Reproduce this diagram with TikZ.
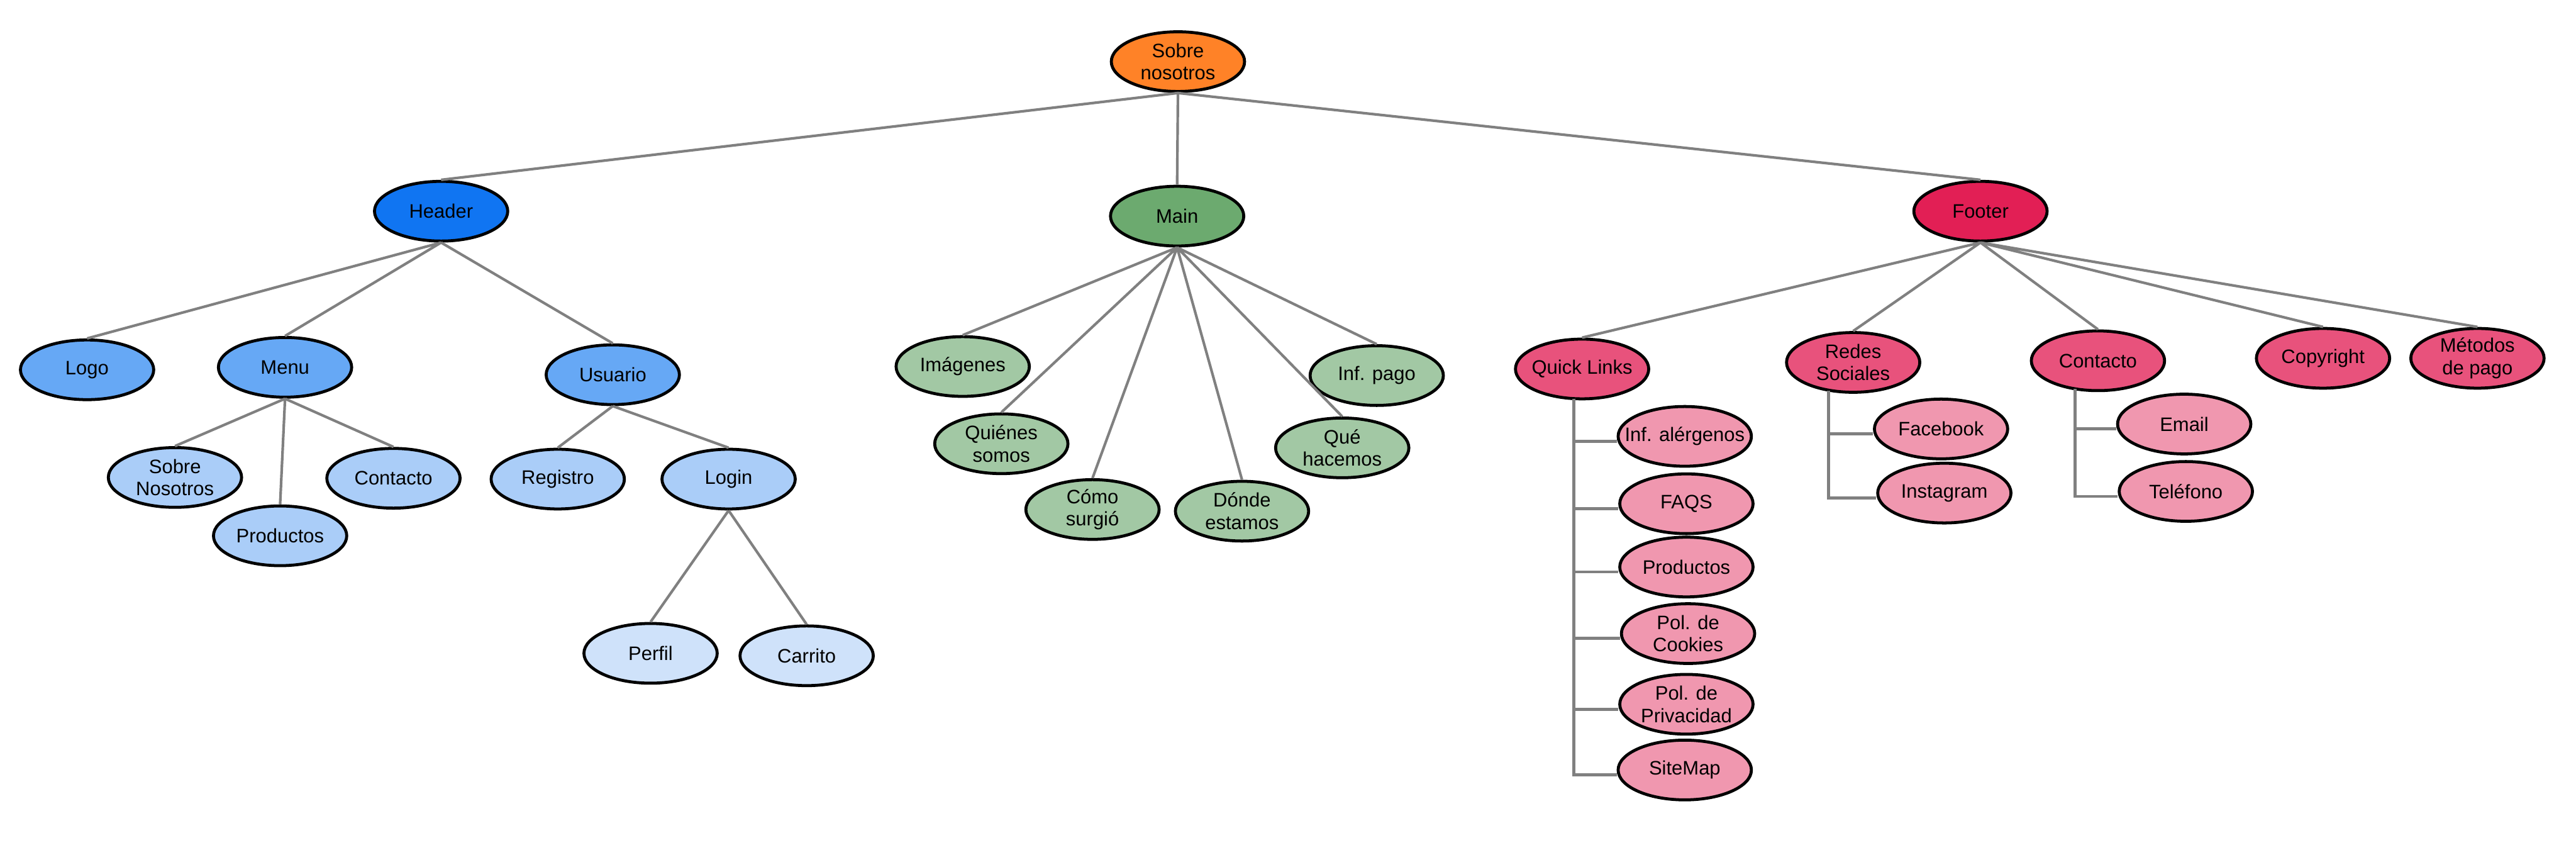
\documentclass[tikz,border=0pt]{standalone}
\usepackage{fontspec}
\setmainfont{Liberation Sans}
\usetikzlibrary{shapes.geometric,calc}
\definecolor{cOrange}{HTML}{FF8227}
\definecolor{cBlueA}{HTML}{1075F2}
\definecolor{cBlueB}{HTML}{66A8F5}
\definecolor{cBlueC}{HTML}{AACDF8}
\definecolor{cBlueD}{HTML}{CFE2FA}
\definecolor{cGreenA}{HTML}{6CAA6F}
\definecolor{cGreenB}{HTML}{A2C8A4}
\definecolor{cRedA}{HTML}{E21F55}
\definecolor{cRedB}{HTML}{E8527C}
\definecolor{cRedC}{HTML}{F097AF}
\definecolor{cLine}{HTML}{808080}
\begin{document}
\begin{tikzpicture}[x=0.030816cm,y=-0.030816cm,
  el/.style={ellipse,draw=black,line width=1.6pt,minimum width=2.5cm,minimum height=1.12cm,
    inner xsep=-3cm,inner ysep=-2cm,align=center,
    font=\fontsize{10.4}{12}\selectfont},
  conn/.style={draw=cLine,line width=1.4pt},
  trunk/.style={draw=cLine,line width=1.6pt}]
\useasboundingbox (0,0) rectangle (1568,517);
% root
\node[el,fill=cOrange] (sn) at (717,37.5) {Sobre\\nosotros};
% level 1
\node[el,fill=cBlueA] (hd) at (268.5,128.5) {Header};
\node[el,fill=cGreenA] (mn) at (716.5,131.5) {Main};
\node[el,fill=cRedA] (ft) at (1205.5,128.5) {Footer};
% header subtree
\node[el,fill=cBlueB] (logo) at (53,225) {Logo};
\node[el,fill=cBlueB] (menu) at (173.5,223.5) {Menu};
\node[el,fill=cBlueB] (usr) at (373,228) {Usuario};
\node[el,fill=cBlueC] (msn) at (106.5,290.5) {Sobre\\Nosotros};
\node[el,fill=cBlueC] (mpr) at (170.5,326) {Productos};
\node[el,fill=cBlueC] (mct) at (239.5,291) {Contacto};
\node[el,fill=cBlueC] (reg) at (339.5,291.5) {Registro};
\node[el,fill=cBlueC] (log) at (443.5,291.5) {Login};
\node[el,fill=cBlueD] (per) at (396,397.5) {Perfil};
\node[el,fill=cBlueD] (car) at (491,399) {Carrito};
% main subtree
\node[el,fill=cGreenB] (img) at (586,223) {Imágenes};
\node[el,fill=cGreenB] (qui) at (609.5,270) {Quiénes\\somos};
\node[el,fill=cGreenB] (com) at (665,310) {Cómo\\surgió};
\node[el,fill=cGreenB] (don) at (756,311) {Dónde\\estamos};
\node[el,fill=cGreenB] (que) at (817,272.5) {Qué\\hacemos};
\node[el,fill=cGreenB] (inf) at (838,228.5) {Inf. pago};
% footer subtree
\node[el,fill=cRedB] (ql) at (963,224.5) {Quick Links};
\node[el,fill=cRedB] (rs) at (1128,220.5) {Redes\\Sociales};
\node[el,fill=cRedB] (fct) at (1277,219.5) {Contacto};
\node[el,fill=cRedB] (cop) at (1414,218) {Copyright};
\node[el,fill=cRedB] (met) at (1508,218) {Métodos\\de pago};
\node[el,fill=cRedC] (ale) at (1025.5,265.5) {Inf. alérgenos};
\node[el,fill=cRedC] (faq) at (1026.5,306.5) {FAQS};
\node[el,fill=cRedC] (fpr) at (1026.5,345) {Productos};
\node[el,fill=cRedC] (coo) at (1027.5,385.5) {Pol. de\\Cookies};
\node[el,fill=cRedC] (pri) at (1026.5,428.5) {Pol. de\\Privacidad};
\node[el,fill=cRedC] (sit) at (1025.5,468.5) {SiteMap};
\node[el,fill=cRedC] (fb) at (1181.5,261) {Facebook};
\node[el,fill=cRedC] (ig) at (1183.5,300) {Instagram};
\node[el,fill=cRedC] (em) at (1329.5,258) {Email};
\node[el,fill=cRedC] (tel) at (1330.5,299) {Teléfono};
% connectors
\path[conn] (sn.south) -- (hd.north) (sn.south) -- (mn.north) (sn.south) -- (ft.north);
\path[conn] (hd.south) -- (logo.north) (hd.south) -- (menu.north) (hd.south) -- (usr.north);
\path[conn] (menu.south) -- (msn.north) (menu.south) -- (mpr.north) (menu.south) -- (mct.north);
\path[conn] (usr.south) -- (reg.north) (usr.south) -- (log.north);
\path[conn] (log.south) -- (per.north) (log.south) -- (car.north);
\path[conn] (mn.south) -- (img.north) (mn.south) -- (qui.north) (mn.south) -- (com.north)
  (mn.south) -- (don.north) (mn.south) -- (que.north) (mn.south) -- (inf.north);
\path[conn] (ft.south) -- (ql.north) (ft.south) -- (rs.north) (ft.south) -- (fct.north)
  (ft.south) -- (cop.north) (ft.south) -- (met.north);
\foreach \c in {ale,faq,fpr,coo,pri,sit}
  \path[trunk] ($(ql.south)+(-5,-1)$) |- ($(\c.west)+(0,3)$);
\foreach \c in {fb,ig}
  \path[trunk] ($(rs.south)+(-15,-2)$) |- ($(\c.west)+(0,3)$);
\foreach \c in {em,tel}
  \path[trunk] ($(fct.south)+(-14,-2)$) |- ($(\c.west)+(0,3)$);
\end{tikzpicture}
\end{document}
